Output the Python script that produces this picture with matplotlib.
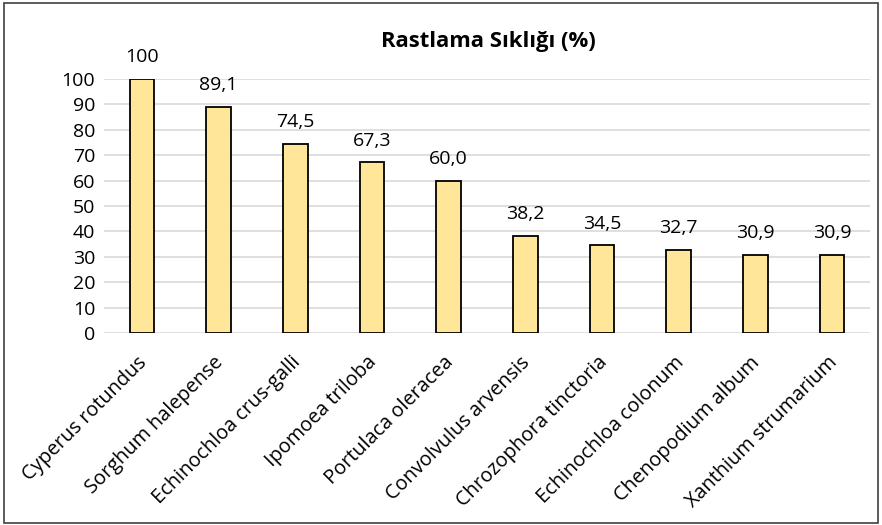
import matplotlib.pyplot as plt
import matplotlib.transforms as mtransforms
from matplotlib.patches import Rectangle

species = ['Cyperus rotundus', 'Sorghum halepense', 'Echinochloa crus-galli',
           'Ipomoea triloba', 'Portulaca oleracea', 'Convolvulus arvensis',
           'Chrozophora tinctoria', 'Echinochloa colonum', 'Chenopodium album',
           'Xanthium strumarium']
freq = [100, 89.1, 74.5, 67.3, 60.0, 38.2, 34.5, 32.7, 30.9, 30.9]
freq_labels = ['100', '89,1', '74,5', '67,3', '60,0', '38,2', '34,5', '32,7', '30,9', '30,9']
yticks = list(range(0, 101, 10))

plt.rcParams['font.family'] = ['Open Sans', 'DejaVu Sans']

fig = plt.figure(figsize=(8.82, 5.25), dpi=100)
ax = fig.add_axes([103.6/882, 1 - 333/525, (870.3 - 103.6)/882, (333 - 79)/525])

x = range(len(species))
ax.bar(x, freq, width=0.32, color='#FFE699', edgecolor='black', linewidth=1.3, zorder=3)
for xi, v, lab in zip(x, freq, freq_labels):
    ax.annotate(lab, (xi, v), xytext=(0, 9), textcoords='offset points',
                ha='center', va='bottom', fontsize=14)

ax.set_xlim(-0.5, len(species) - 0.5)
ax.set_ylim(0, 100)
ax.set_yticks(yticks)
ax.set_yticklabels([str(t) for t in yticks], fontsize=14)
ax.set_xticks(list(x))
ax.set_xticklabels(species, rotation=45, ha='right', va='top',
                   rotation_mode='anchor', fontsize=14.3)
ax.tick_params(length=0, pad=6)
ax.tick_params(axis='x', pad=14)
# nudge the slanted category labels a little to the left
shift = mtransforms.ScaledTranslation(-5/100, 0, fig.dpi_scale_trans)
for lbl in ax.get_xticklabels():
    lbl.set_transform(lbl.get_transform() + shift)
ax.grid(axis='y', color='#D9D9D9', linewidth=1.2, zorder=0)
for s in ax.spines.values():
    s.set_visible(False)

fig.text(488/882, 1 - 42/525, 'Rastlama Sıklığı (%)', ha='center', va='center',
         fontsize=15.8, fontweight='bold')

# outer frame around the whole chart
fig.patches.append(Rectangle((0.004, 0.004), 0.992, 0.99, transform=fig.transFigure,
                             fill=False, edgecolor='#404040', linewidth=1.2))

fig.savefig('out.png', dpi=100)
